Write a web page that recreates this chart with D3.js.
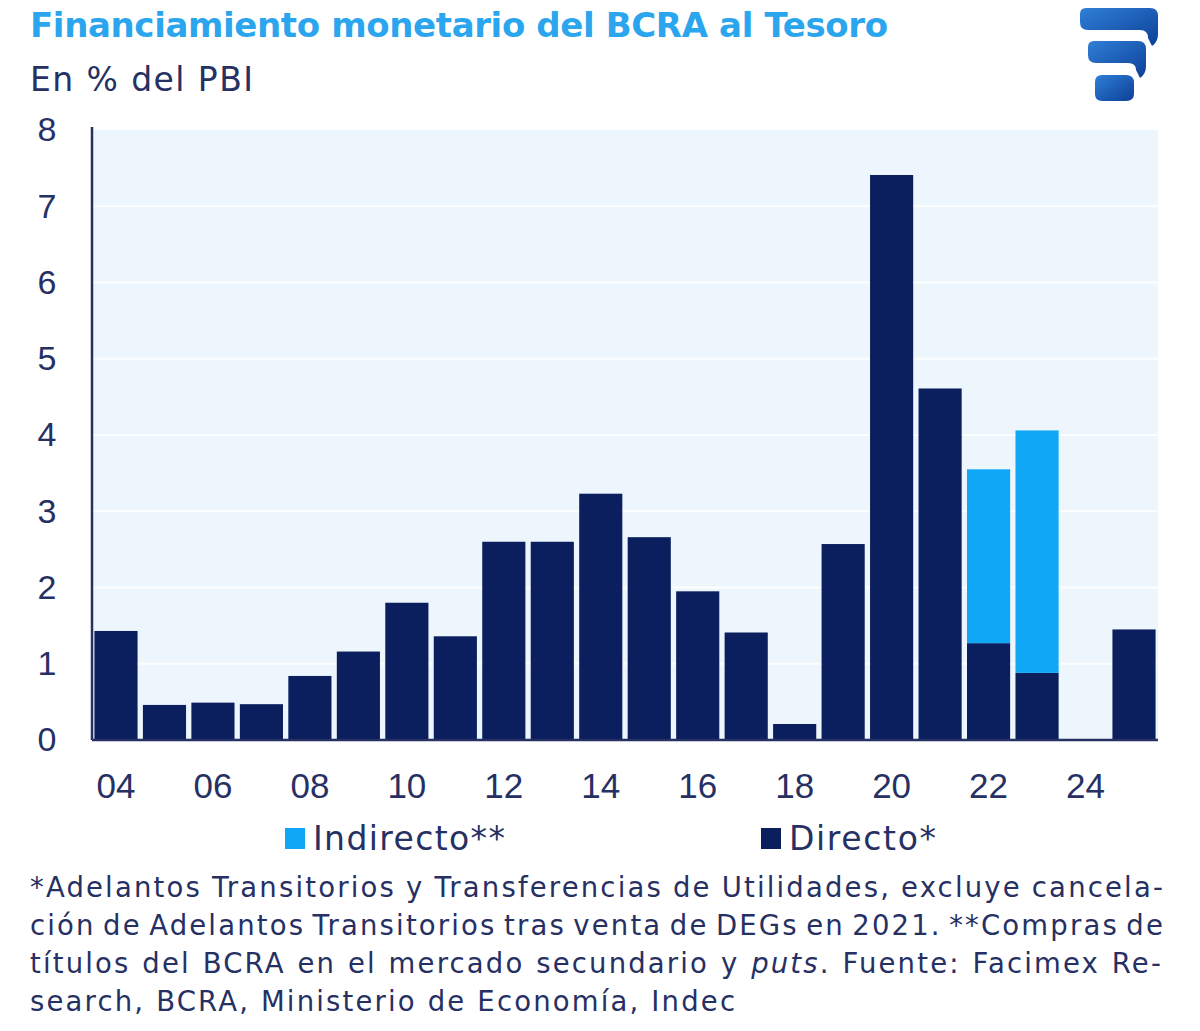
<!DOCTYPE html>
<html>
<head>
<meta charset="utf-8">
<script src="https://cdn.jsdelivr.net/npm/d3@7"></script>
<style>
  body { margin: 0; background: #fff; }
  svg { display: block; font-family: "DejaVu Sans", "Noto Sans", sans-serif; }
</style>
</head>
<body>
<div id="chart"></div>
<script>
// data (% of GDP)
const years = [2004, 2005, 2006, 2007, 2008, 2009, 2010, 2011, 2012, 2013, 2014,
    2015, 2016, 2017, 2018, 2019, 2020, 2021, 2022, 2023, 2024, 2025];
const directo = [1.43, 0.46, 0.49, 0.47, 0.84, 1.16, 1.80, 1.36, 2.60, 2.60, 3.23,
    2.66, 1.95, 1.41, 0.21, 2.57, 7.41, 4.61, 1.27, 0.88, 0, 1.45];
const indirecto = [0, 0, 0, 0, 0, 0, 0, 0, 0, 0, 0,
    0, 0, 0, 0, 0, 0, 0, 2.28, 3.18, 0, 0];
const yTicks = [0, 1, 2, 3, 4, 5, 6, 7, 8];
const xTickYears = [2004, 2006, 2008, 2010, 2012, 2014, 2016, 2018, 2020, 2022, 2024];
const seriesNames = ["Indirecto**", "Directo*"];

const navy = "#0b1f5e";
const sky = "#10a8f6";
const textNavy = "#263063";

const W = 1200, H = 1031;
const margin = { top: 130, left: 92 };
const width = 1066, height = 610;

const svg = d3.select("#chart").append("svg")
    .attr("width", W)
    .attr("height", H);

// nudge a text element to a target width with letter-spacing
function fitWidth(sel, target) {
    sel.each(function () {
        const n = this.getNumberOfChars();
        const len = this.getComputedTextLength();
        d3.select(this).style("letter-spacing", ((target - len) / (n - 1)) + "px");
    });
}

// Title + subtitle
svg.append("text")
    .attr("x", 30).attr("y", 37)
    .attr("fill", "#2ba6ee")
    .style("font-size", "34px")
    .style("font-weight", "bold")
    .text("Financiamiento monetario del BCRA al Tesoro")
    .call(fitWidth, 858);

svg.append("text")
    .attr("x", 30).attr("y", 91)
    .attr("fill", textNavy)
    .style("font-size", "33px")
    .text("En % del PBI")
    .call(fitWidth, 223);

// logo (three stacked rounded blocks)
const grad = svg.append("defs").append("linearGradient")
    .attr("id", "logoGrad")
    .attr("x1", "0").attr("y1", "0").attr("x2", "1").attr("y2", "1");
grad.append("stop").attr("offset", "0").attr("stop-color", "#2f7fd6");
grad.append("stop").attr("offset", "1").attr("stop-color", "#0d3f98");

const logo = svg.append("g").attr("transform", "translate(1080,8)");
logo.append("path")
    .attr("d", "M6,0 H70 Q78,0 78,8 V26 Q78,34 72,38 L68,30 Q68,22 60,22 H8 Q0,22 0,14 V6 Q0,0 6,0 Z")
    .attr("fill", "url(#logoGrad)");
logo.append("path")
    .attr("d", "M14,33 H58 Q66,33 66,41 V58 Q66,66 60,70 L56,62 Q56,55 48,55 H16 Q8,55 8,47 V39 Q8,33 14,33 Z")
    .attr("fill", "url(#logoGrad)");
logo.append("path")
    .attr("d", "M22,67 H46 Q54,67 54,75 V86 Q54,93 46,93 H22 Q15,93 15,86 V74 Q15,67 22,67 Z")
    .attr("fill", "url(#logoGrad)");

const g = svg.append("g")
    .attr("transform", "translate(" + margin.left + "," + margin.top + ")");

// Scales
const x = d3.scaleBand()
    .domain(years)
    .range([0, width])
    .paddingInner(0.11)
    .paddingOuter(0.05);

const y = d3.scaleLinear()
    .domain([0, 8])
    .range([height, 0]);

// plot background + white gridlines
g.append("rect")
    .attr("x", 0).attr("y", 0)
    .attr("width", width).attr("height", height)
    .attr("fill", "#eef6fd");

g.selectAll(".grid")
    .data(yTicks.slice(1, -1))
    .enter().append("line")
    .attr("class", "grid")
    .attr("x1", 0).attr("x2", width)
    .attr("y1", d => y(d)).attr("y2", d => y(d))
    .attr("stroke", "#fbfdff")
    .attr("stroke-width", 2);

// stacked bars
const rows = years.map((yr, i) => ({ year: yr, directo: directo[i], indirecto: indirecto[i] }));
const stacked = d3.stack().keys(["directo", "indirecto"])(rows);
const colors = { directo: navy, indirecto: sky };

g.selectAll(".layer")
    .data(stacked)
    .enter().append("g")
    .attr("class", "layer")
    .attr("fill", d => colors[d.key])
    .selectAll("rect")
    .data(d => d)
    .enter().append("rect")
    .attr("x", d => x(d.data.year))
    .attr("width", x.bandwidth())
    .attr("y", d => y(d[1]))
    .attr("height", d => y(d[0]) - y(d[1]));

// Axes
const yAxis = d3.axisLeft(y)
    .tickValues(yTicks)
    .tickSize(0)
    .tickFormat(d3.format("d"));

const yG = g.append("g").call(yAxis);
yG.select(".domain").remove();
yG.selectAll("text")
    .attr("x", -45)
    .attr("text-anchor", "middle")
    .attr("fill", textNavy)
    .style("font-size", "34px");

const xAxis = d3.axisBottom(x)
    .tickValues(xTickYears)
    .tickSize(0)
    .tickFormat(d => String(d).slice(2));

const xG = g.append("g")
    .attr("transform", "translate(0," + height + ")")
    .call(xAxis);
xG.select(".domain").remove();
xG.selectAll("text")
    .attr("y", 58)
    .attr("dy", 0)
    .attr("fill", textNavy)
    .style("font-size", "35px");

g.append("line")
    .attr("x1", 0).attr("x2", 0)
    .attr("y1", -3).attr("y2", height)
    .attr("stroke", textNavy).attr("stroke-width", 2.5);
g.append("line")
    .attr("x1", 0).attr("x2", width)
    .attr("y1", height).attr("y2", height)
    .attr("stroke", textNavy).attr("stroke-width", 2.5);

// Legend
const legendX = [285, 761];
const legendW = [192, 147];
const legend = svg.selectAll(".legend")
    .data(seriesNames)
    .enter().append("g")
    .attr("class", "legend")
    .attr("transform", (d, i) => "translate(" + legendX[i] + ",828)");

legend.append("rect")
    .attr("width", 20).attr("height", 21)
    .attr("fill", (d, i) => i === 0 ? sky : navy);

legend.append("text")
    .attr("x", 28).attr("y", 22)
    .attr("fill", textNavy)
    .style("font-size", "33px")
    .text(d => d)
    .each(function (d, i) { d3.select(this).call(fitWidth, legendW[i]); });

// Footnote (justified like the original)
const notes = svg.append("g")
    .attr("fill", textNavy)
    .style("font-size", "27.5px");

const noteLines = [
    [{ t: "*Adelantos Transitorios y Transferencias de Utilidades, excluye cancela-" }],
    [{ t: "ción de Adelantos Transitorios tras venta de DEGs en 2021. **Compras de" }],
    [{ t: "títulos del BCRA en el mercado secundario y " }, { t: "puts", i: true }, { t: ". Fuente: Facimex Re-" }],
    [{ t: "search, BCRA, Ministerio de Economía, Indec" }]
];
const noteWidths = [1135, 1135, 1133, null];

const noteTexts = noteLines.map((line, k) => {
    const txt = notes.append("text")
        .attr("x", 30)
        .attr("y", 897 + k * 38);
    line.forEach(part => {
        txt.append("tspan")
            .style("font-style", part.i ? "italic" : "normal")
            .text(part.t);
    });
    return txt;
});

// common letter-spacing from the last (unjustified) line, then word-spacing to justify
const last = noteTexts[3].node();
const ls = (705 - last.getComputedTextLength()) / (last.getNumberOfChars() - 1);
notes.style("letter-spacing", ls + "px");
noteTexts.forEach((txt, k) => {
    if (!noteWidths[k]) return;
    const node = txt.node();
    const spaces = (txt.text().match(/ /g) || []).length;
    const extra = noteWidths[k] - node.getComputedTextLength();
    txt.style("word-spacing", (extra / spaces) + "px");
});
</script>
</body>
</html>
